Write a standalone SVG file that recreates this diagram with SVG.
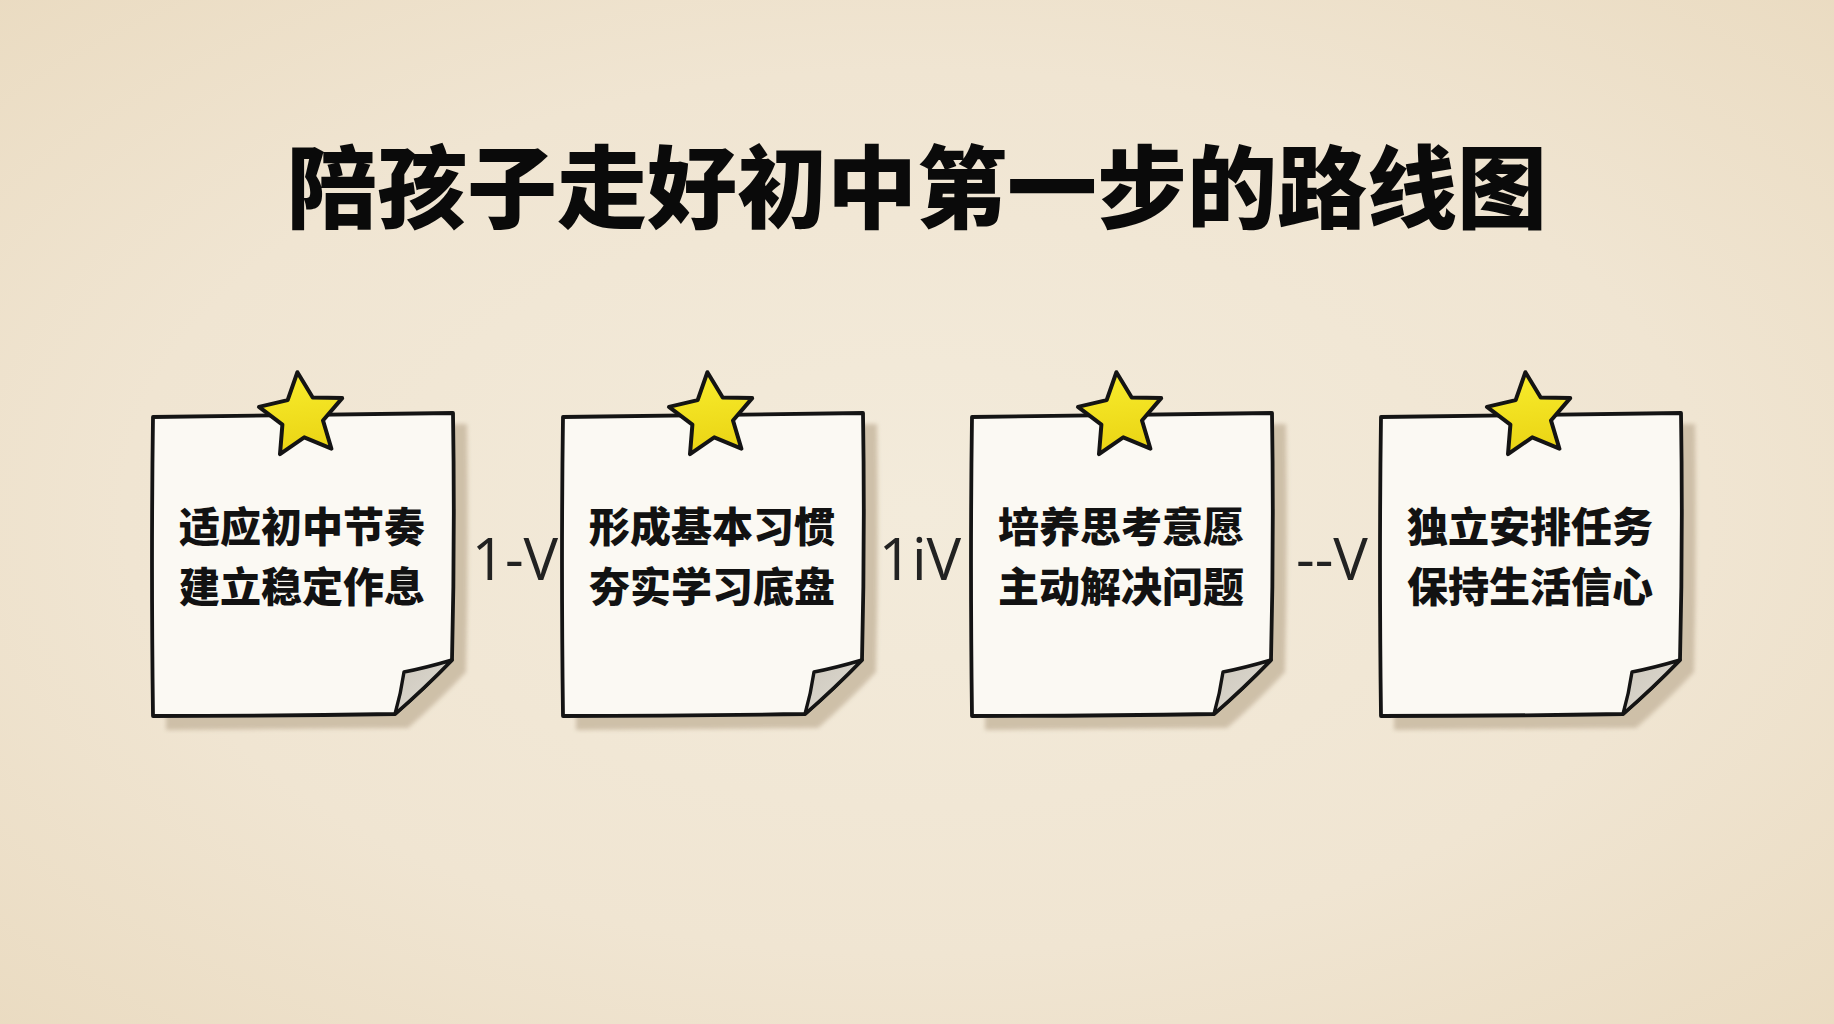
<svg xmlns="http://www.w3.org/2000/svg" width="1834" height="1024" viewBox="0 0 1834 1024">
  <defs>
    <radialGradient id="bg" cx="50%" cy="50%" r="72%">
      <stop offset="0" stop-color="#f3ebdb"/>
      <stop offset="0.6" stop-color="#f0e5d2"/>
      <stop offset="1" stop-color="#eadbc1"/>
    </radialGradient>
    <linearGradient id="starFill" x1="0" y1="0" x2="0" y2="1">
      <stop offset="0" stop-color="#f8ec2c"/>
      <stop offset="1" stop-color="#ead414"/>
    </linearGradient>
    <linearGradient id="flapFill" x1="0" y1="0" x2="1" y2="1">
      <stop offset="0" stop-color="#cdc8bd"/>
      <stop offset="1" stop-color="#e0dcd3"/>
    </linearGradient>
    <filter id="blur" x="-10%" y="-10%" width="120%" height="120%">
      <feGaussianBlur stdDeviation="2"/>
    </filter>
    <g id="card">
      <path class="shadow" d="M166,428 Q310,425 467,424 Q469,550 466,672 Q438,702 408,728 L166,730 Z" filter="url(#blur)"/>
      <path class="paper" d="M153,417 Q300,415 453,413 Q455,540 452,660 Q425,688 395,714 Q270,716 153,716 Q151,560 153,417 Z"/>
      <path class="flap" d="M452,660 Q425,668 404,672 Q401,693 395,714 Q425,688 452,660 Z"/>
      <path class="star" transform="translate(302,416) rotate(-6)" d="M0,-44 L12.6,-17.3 L41.85,-13.6 L20.4,6.6 L25.86,35.6 L0,21.5 L-25.86,35.6 L-20.4,6.6 L-41.85,-13.6 L-12.6,-17.3 Z"/>
    </g>
  </defs>
  <style>
    .shadow { fill: #cbbca4; opacity: 0.9; }
    .paper { fill: #fbf9f3; stroke: #141414; stroke-width: 3.8; stroke-linejoin: round; }
    .flap { fill: url(#flapFill); stroke: #141414; stroke-width: 3.4; stroke-linejoin: round; }
    .star { fill: url(#starFill); stroke: #141414; stroke-width: 4; stroke-linejoin: round; }
    .title { font-family: "Noto Sans CJK SC", "Noto Sans", sans-serif; font-weight: 900; font-size: 90px; fill: #0a0a0a; }
    .label { font-family: "Noto Sans CJK SC", "Noto Sans", sans-serif; font-weight: 900; font-size: 41px; fill: #121212; text-anchor: middle; }
    .conn { font-family: "Open Sans", "Liberation Sans", sans-serif; font-size: 58px; fill: #222222; text-anchor: middle; }
  </style>

  <rect x="0" y="0" width="1834" height="1024" fill="url(#bg)"/>

  <text class="title" x="917" y="221" text-anchor="middle">陪孩子走好初中第一步的路线图</text>

  <g id="node1">
    <use href="#card"/>
    <text class="label" x="302" y="542">适应初中节奏</text>
    <text class="label" x="302" y="602">建立稳定作息</text>
  </g>
  <g id="node2" transform="translate(410,0)">
    <use href="#card"/>
    <text class="label" x="302" y="542">形成基本习惯</text>
    <text class="label" x="302" y="602">夯实学习底盘</text>
  </g>
  <g id="node3" transform="translate(819,0)">
    <use href="#card"/>
    <text class="label" x="302" y="542">培养思考意愿</text>
    <text class="label" x="302" y="602">主动解决问题</text>
  </g>
  <g id="node4" transform="translate(1228,0)">
    <use href="#card"/>
    <text class="label" x="302" y="542">独立安排任务</text>
    <text class="label" x="302" y="602">保持生活信心</text>
  </g>

  <g id="connectors">
    <text class="conn" x="515" y="580">1-V</text>
    <text class="conn" x="920" y="580">1iV</text>
    <text class="conn" x="1332" y="580">--V</text>
  </g>
</svg>
